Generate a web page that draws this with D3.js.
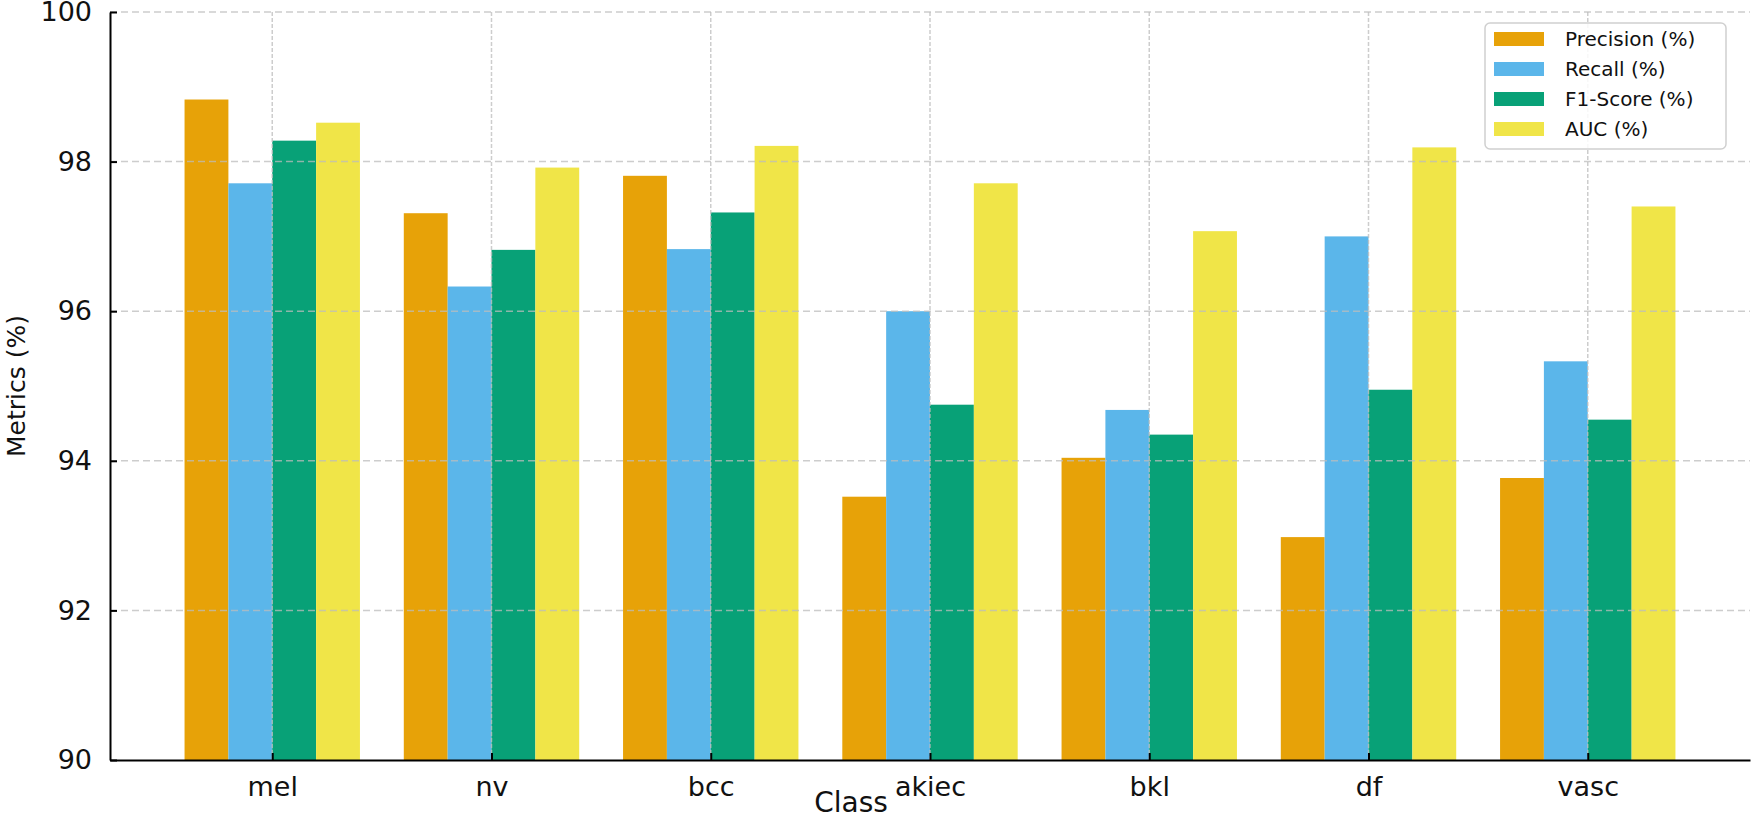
<!DOCTYPE html>
<html>
<head>
<meta charset="utf-8">
<script src="https://cdn.jsdelivr.net/npm/d3@7"></script>
<style>
  body { margin: 0; background: #fff; }
  text { font-family: "DejaVu Sans", sans-serif; fill: #111; }
</style>
</head>
<body>
<div id="chart"></div>
<script>
// data
var classes = ['mel', 'nv', 'bcc', 'akiec', 'bkl', 'df', 'vasc'];
var series = ['Precision (%)', 'Recall (%)', 'F1-Score (%)', 'AUC (%)'];
var precision = [98.83, 97.31, 97.81, 93.52, 94.04, 92.98, 93.77];
var recall    = [97.71, 96.33, 96.83, 96.00, 94.68, 97.00, 95.33];
var f1        = [98.28, 96.82, 97.32, 94.75, 94.35, 94.95, 94.55];
var auc       = [98.52, 97.92, 98.21, 97.71, 97.07, 98.19, 97.40];
var yTicks = [90, 92, 94, 96, 98, 100];
var colors = ['#E69F00', '#56B4E9', '#009E73', '#F0E442'];

var values = [precision, recall, f1, auc];

var width = 1755,
    height = 821,
    plotLeft = 110, plotRight = 1750, plotTop = 12, plotBottom = 760;

var svg = d3.select('#chart').append('svg')
  .attr('width', width)
  .attr('height', height);

// x in category units, like matplotlib's margins around bars
var x = d3.scaleLinear().domain([-0.74, 6.74]).range([plotLeft, plotRight]);
var y = d3.scaleLinear().domain([90, 100]).range([plotBottom, plotTop]);
var barW = 0.2;

// bars
var g = svg.append('g');
values.forEach(function(vals, s) {
  g.selectAll('.bar-' + s)
    .data(vals)
    .enter().append('rect')
    .attr('class', 'bar-' + s)
    .attr('x', (d, i) => x(i - 0.4 + s * barW))
    .attr('width', x(barW) - x(0))
    .attr('y', d => y(d))
    .attr('height', d => y(90) - y(d))
    .attr('fill', colors[s])
    .attr('fill-opacity', 0.97);
});

// grid on top, light
var grid = svg.append('g');
grid.selectAll('.hgrid').data(yTicks.slice(1)).enter().append('line')
  .attr('x1', plotLeft).attr('x2', plotRight)
  .attr('y1', d => y(d)).attr('y2', d => y(d))
  .attr('stroke', '#bdbdbd').attr('stroke-width', 1.5)
  .attr('stroke-dasharray', '7,4').attr('opacity', 0.75);
grid.selectAll('.vgrid').data(classes).enter().append('line')
  .attr('x1', (d, i) => x(i)).attr('x2', (d, i) => x(i))
  .attr('y1', plotTop).attr('y2', plotBottom)
  .attr('stroke', '#bdbdbd').attr('stroke-width', 1.5)
  .attr('stroke-dasharray', '4,2').attr('opacity', 0.75);

// axes (ticks pointing inward)
var yAxis = svg.append('g')
  .attr('transform', `translate(${plotLeft},0)`)
  .call(d3.axisLeft(y).tickValues(yTicks).tickSizeInner(-7).tickSizeOuter(0).tickPadding(18));
var xAxis = svg.append('g')
  .attr('transform', `translate(0,${plotBottom})`)
  .call(d3.axisBottom(x).tickValues(d3.range(classes.length))
    .tickFormat(i => classes[i]).tickSizeInner(-7).tickSizeOuter(0).tickPadding(17));

[yAxis, xAxis].forEach(function(a) {
  a.select('.domain').attr('stroke', '#000').attr('stroke-width', 2);
  a.selectAll('.tick line').attr('stroke', '#000').attr('stroke-width', 2);
  a.selectAll('.tick text').style('font-size', '27px').attr('fill', '#111');
});

// axis labels
svg.append('text')
  .attr('transform', `translate(25,${(plotTop + plotBottom) / 2}) rotate(-90)`)
  .attr('text-anchor', 'middle')
  .style('font-size', '25px')
  .text('Metrics (%)');

svg.append('text')
  .attr('x', 851).attr('y', 812)
  .attr('text-anchor', 'middle')
  .style('font-size', '28px')
  .text('Class');

// legend
var legend = svg.append('g');
legend.append('rect')
  .attr('x', 1485).attr('y', 23).attr('width', 241).attr('height', 126)
  .attr('rx', 5)
  .attr('fill', '#fff').attr('fill-opacity', 0.85)
  .attr('stroke', '#d0d0d0').attr('stroke-width', 1.5);

var items = legend.selectAll('.item').data(series).enter().append('g')
  .attr('transform', (d, i) => `translate(1494,${39 + i * 30})`);
items.append('rect')
  .attr('x', 0).attr('y', -7).attr('width', 50).attr('height', 14)
  .attr('fill', (d, i) => colors[i]).attr('fill-opacity', 0.97);
items.append('text')
  .attr('x', 71).attr('y', 0)
  .attr('dominant-baseline', 'central')
  .style('font-size', '20px')
  .text(d => d);
</script>
</body>
</html>
